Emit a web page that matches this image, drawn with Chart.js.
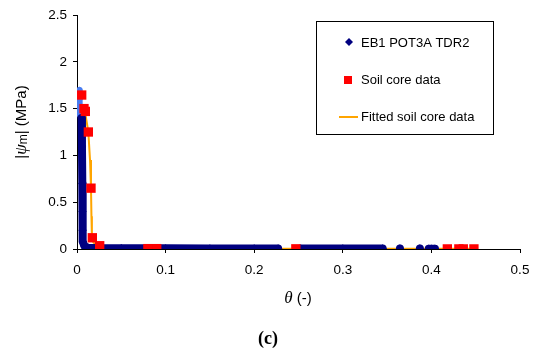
<!DOCTYPE html>
<html lang="en">
<head>
    <meta charset="UTF-8">
    <title>Soil water retention</title>
    <style>
        body { margin: 0; background: #fff; }
        #chart { display: block; }
    </style>
</head>
<body>
    <canvas id="chart" width="533" height="357"></canvas>

    <script src="https://cdn.jsdelivr.net/npm/chart.js"></script>
    <script>
        // axis ticks
        const xTicks = [0, 0.1, 0.2, 0.3, 0.4, 0.5];
        const yTicks = [0, 0.5, 1, 1.5, 2, 2.5];

        // EB1 POT3A TDR2 - dense TDR cloud, traced along its band (NaN = break)
        const tdrTheta = [0.0052, 0.0056, 0.0060, 0.0062, 0.0063, 0.0067, 0.0085, 0.012, 0.02, 0.05, 0.1, 0.15, 0.2, 0.227,
            NaN, 0.2525, 0.3, 0.345, NaN, 0.3645, NaN, 0.387, NaN, 0.397, 0.400, 0.404];
        const tdrPsi = [1.40, 1.10, 0.70, 0.40, 0.20, 0.08, 0.03, 0.014, 0.01, 0.008, 0.007, 0.006, 0.006, 0.006,
            NaN, 0.005, 0.005, 0.005, NaN, 0.005, NaN, 0.005, NaN, 0.004, 0.004, 0.004];

        // lighter points at the top of the TDR cloud
        const topTheta = [0.0027, 0.0029, 0.0031, 0.0034];
        const topPsi = [1.70, 1.60, 1.50, 1.43];

        // Soil core data
        const coreTheta = [0.0053, 0.0079, 0.0094, 0.0128, 0.0158, 0.0173, 0.0256, 0.080, 0.090, 0.247, 0.418, 0.431, 0.436, 0.448];
        const corePsi = [1.645, 1.50, 1.47, 1.25, 0.65, 0.12, 0.035, 0.004, 0.004, 0.002, 0.001, 0.001, 0.001, 0.001];

        // Fitted soil core data
        const fitTheta = [0.0085, 0.0128, 0.0147, 0.0158, 0.0163, 0.0168, 0.0185, 0.023, 0.035, 0.07, 0.15, 0.45];
        const fitPsi = [1.50, 1.25, 0.95, 0.65, 0.35, 0.15, 0.07, 0.035, 0.015, 0.007, 0.004, 0.002];

        const pts = (xs, ys) => xs.map((x, i) => ({ x: x, y: ys[i] }));

        const FONT = "'Liberation Sans', Arial, sans-serif";
        const SERIF = "'Liberation Serif', 'Times New Roman', serif";
        const NAVY = '#000080';
        const LIGHT = '#4a7cf0';
        const ORANGE = '#ffa500';
        const RED = '#ff0000';

        // titles, caption and legend box drawn by hand
        const decorations = {
            id: 'decorations',
            afterDraw(chart) {
                const ctx = chart.ctx;
                ctx.save();
                ctx.fillStyle = '#000';
                ctx.textBaseline = 'middle';

                // x title: italic theta + (-)
                const th = 'θ', rest = ' (-)';
                ctx.font = 'italic 17px ' + SERIF;
                const thW = ctx.measureText(th).width;
                ctx.font = '15px ' + FONT;
                const restW = ctx.measureText(rest).width;
                const x0 = 298 - (thW + restW) / 2;
                ctx.textAlign = 'left';
                ctx.font = 'italic 17px ' + SERIF;
                ctx.fillText(th, x0, 299);
                ctx.font = '15px ' + FONT;
                ctx.fillText(rest, x0 + thW, 299);

                // y title
                ctx.save();
                ctx.translate(22, 122);
                ctx.rotate(-Math.PI / 2);
                const parts = [
                    { t: '|', f: '15px ' + FONT, dy: 0 },
                    { t: 'ψ', f: 'italic 17px ' + SERIF, dy: 0 },
                    { t: 'm', f: '12px ' + FONT, dy: 2 },
                    { t: '| (MPa)', f: '15px ' + FONT, dy: 0 }
                ];
                let total = 0;
                parts.forEach(p => { ctx.font = p.f; p.w = ctx.measureText(p.t).width; total += p.w; });
                let px = -total / 2;
                parts.forEach(p => { ctx.font = p.f; ctx.fillText(p.t, px, p.dy); px += p.w; });
                ctx.restore();

                // caption
                ctx.textAlign = 'center';
                ctx.font = 'bold 18px ' + SERIF;
                ctx.fillText('(c)', 268, 339);

                // legend
                ctx.strokeStyle = '#000';
                ctx.lineWidth = 1;
                ctx.strokeRect(316.5, 21.5, 177, 113);
                ctx.textAlign = 'left';
                ctx.font = '13px ' + FONT;
                ctx.fillText('EB1 POT3A TDR2', 361, 43);
                ctx.fillText('Soil core data', 361, 80);
                ctx.fillText('Fitted soil core data', 361, 117);

                ctx.fillStyle = NAVY;
                ctx.beginPath();
                ctx.moveTo(349, 38);
                ctx.lineTo(353, 42);
                ctx.lineTo(349, 46);
                ctx.lineTo(345, 42);
                ctx.closePath();
                ctx.fill();

                ctx.fillStyle = RED;
                ctx.fillRect(344, 76, 8, 8);

                ctx.strokeStyle = ORANGE;
                ctx.lineWidth = 2;
                ctx.beginPath();
                ctx.moveTo(339, 117);
                ctx.lineTo(358, 117);
                ctx.stroke();
                ctx.restore();
            }
        };

        const tickFmt = v => String(Math.round(v * 10) / 10);

        const ctx = document.getElementById('chart').getContext('2d');
        const chart = new Chart(ctx, {
            type: 'scatter',
            data: {
                datasets: [
                    {
                        label: 'Soil core data',
                        data: pts(coreTheta, corePsi),
                        pointStyle: 'rect',
                        pointRadius: 6.6,
                        backgroundColor: RED,
                        borderWidth: 0,
                        showLine: false
                    },
                    {
                        label: 'EB1 POT3A TDR2',
                        data: pts(tdrTheta, tdrPsi),
                        pointStyle: 'rectRot',
                        pointRadius: 4.2,
                        backgroundColor: NAVY,
                        pointBorderWidth: 0,
                        borderColor: NAVY,
                        borderWidth: 8,
                        borderJoinStyle: 'round',
                        borderCapStyle: 'round',
                        showLine: true,
                        spanGaps: false
                    },
                    {
                        label: 'top',
                        data: pts(topTheta, topPsi),
                        pointStyle: 'rectRot',
                        pointRadius: 3.4,
                        backgroundColor: LIGHT,
                        pointBorderWidth: 0,
                        borderColor: LIGHT,
                        borderWidth: 6,
                        borderJoinStyle: 'round',
                        borderCapStyle: 'round',
                        showLine: true
                    },
                    {
                        label: 'Fitted soil core data',
                        data: pts(fitTheta, fitPsi),
                        pointRadius: 0,
                        borderColor: ORANGE,
                        borderWidth: 2,
                        showLine: true,
                        tension: 0
                    }
                ]
            },
            options: {
                responsive: false,
                animation: false,
                layout: { padding: { left: 0, right: 13, top: 15, bottom: 0 } },
                plugins: {
                    legend: { display: false },
                    tooltip: { enabled: false }
                },
                scales: {
                    x: {
                        type: 'linear',
                        min: 0,
                        max: 0.5,
                        afterBuildTicks: s => { s.ticks = xTicks.map(v => ({ value: v })); },
                        afterFit: s => { s.height = 108; s.paddingLeft = 0; s.paddingRight = 0; },
                        ticks: {
                            color: '#000',
                            font: { family: FONT, size: 13.5 },
                            padding: 9,
                            maxRotation: 0,
                            callback: tickFmt
                        },
                        grid: { display: true, drawOnChartArea: false, drawTicks: true, tickLength: 4, color: '#000' },
                        border: { display: true, color: '#000', width: 1 }
                    },
                    y: {
                        type: 'linear',
                        min: 0,
                        max: 2.5,
                        afterBuildTicks: s => { s.ticks = yTicks.map(v => ({ value: v })); },
                        afterFit: s => { s.width = 77; s.paddingTop = 0; s.paddingBottom = 0; },
                        ticks: {
                            color: '#000',
                            font: { family: FONT, size: 13.5 },
                            padding: 6,
                            callback: tickFmt
                        },
                        grid: { display: true, drawOnChartArea: false, drawTicks: true, tickLength: 4, color: '#000' },
                        border: { display: true, color: '#000', width: 1 }
                    }
                }
            },
            plugins: [decorations]
        });
    </script>
</body>
</html>
